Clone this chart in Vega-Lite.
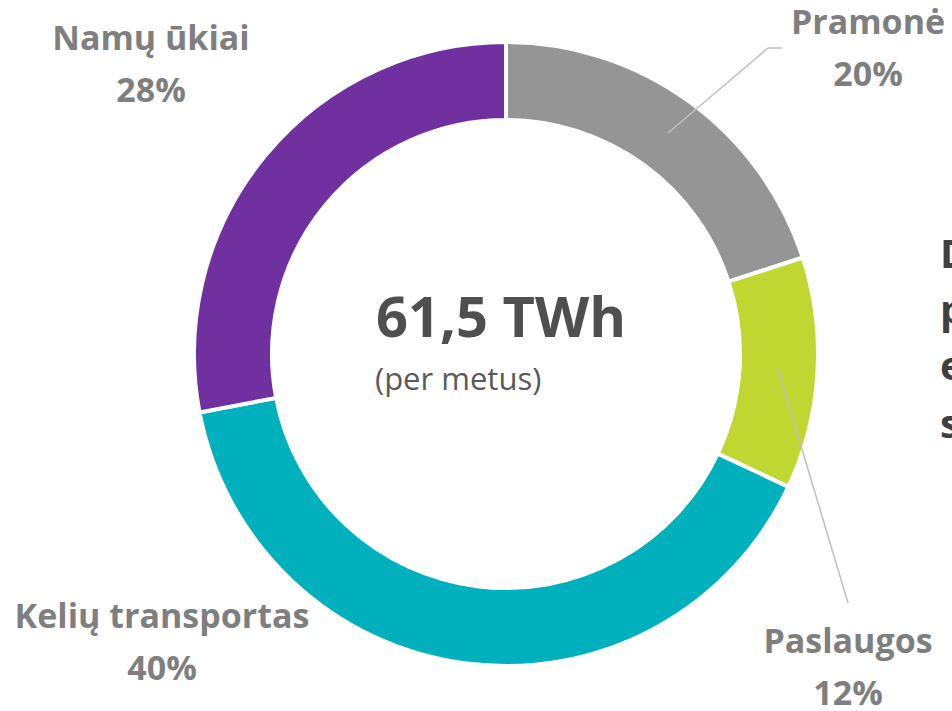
{
  "$schema": "https://vega.github.io/schema/vega-lite/v6.json",
  "width": 892,
  "height": 708,
  "autosize": "none",
  "padding": {"left": 60, "top": 0, "right": 0, "bottom": 3},
  "background": "white",
  "config": {"view": {"stroke": null}, "font": "Open Sans"},
  "datasets": {
    "sectors": [
      {"sector": "Pramonė", "rank": 1, "share": 0.20, "lx": 362, "ly": 320},
      {"sector": "Paslaugos", "rank": 2, "share": 0.12, "lx": 342, "ly": -299},
      {"sector": "Kelių transportas", "rank": 3, "share": 0.40, "lx": -344, "ly": -274},
      {"sector": "Namų ūkiai", "rank": 4, "share": 0.28, "lx": -355, "ly": 304}
    ],
    "leaders": [
      {"sector": "Pramonė", "x": 162, "y": 221, "x2": 262, "y2": 306},
      {"sector": "Pramonė", "x": 262, "y": 306, "x2": 276, "y2": 306},
      {"sector": "Paslaugos", "x": 272, "y": -15, "x2": 342, "y2": -249}
    ],
    "notes": [
      {"kind": "total", "text": "61,5 TWh", "x": -130, "y": 17},
      {"kind": "unit", "text": "(per metus)", "x": -131, "y": -36},
      {"kind": "side", "text": "D", "x": 434, "y": 86},
      {"kind": "side", "text": "p", "x": 434, "y": 30},
      {"kind": "side", "text": "e", "x": 434, "y": -26},
      {"kind": "side", "text": "s", "x": 434, "y": -84}
    ]
  },
  "layer": [
    {
      "data": {"name": "sectors"},
      "mark": {"type": "arc", "innerRadius": 234, "outerRadius": 312, "stroke": "white", "strokeWidth": 4},
      "encoding": {
        "theta": {"field": "share", "type": "quantitative", "stack": true},
        "order": {"field": "rank", "type": "quantitative", "sort": "ascending"},
        "color": {
          "field": "sector",
          "type": "nominal",
          "scale": {
            "domain": ["Pramonė", "Paslaugos", "Kelių transportas", "Namų ūkiai"],
            "range": ["#959595", "#C0D631", "#00B1BD", "#7030A0"]
          },
          "legend": null
        }
      }
    },
    {
      "data": {"name": "leaders"},
      "mark": {"type": "rule", "color": "#BFBFBF", "strokeWidth": 1.5},
      "encoding": {
        "x": {"field": "x", "type": "quantitative", "scale": {"domain": [-446, 446], "nice": false, "zero": false}, "axis": null},
        "y": {"field": "y", "type": "quantitative", "scale": {"domain": [-354, 354], "nice": false, "zero": false}, "axis": null},
        "x2": {"field": "x2"},
        "y2": {"field": "y2"}
      }
    },
    {
      "data": {"name": "sectors"},
      "mark": {"type": "text", "font": "Open Sans", "fontWeight": "bold", "fontSize": 34, "color": "#7F7F7F", "align": "center", "baseline": "alphabetic"},
      "encoding": {
        "x": {"field": "lx", "type": "quantitative"},
        "y": {"field": "ly", "type": "quantitative"},
        "text": {"field": "sector"}
      }
    },
    {
      "data": {"name": "sectors"},
      "mark": {"type": "text", "font": "Open Sans", "fontWeight": "bold", "fontSize": 34, "color": "#7F7F7F", "align": "center", "baseline": "alphabetic", "dy": 52},
      "encoding": {
        "x": {"field": "lx", "type": "quantitative"},
        "y": {"field": "ly", "type": "quantitative"},
        "text": {"field": "share", "type": "quantitative", "format": ".0%"}
      }
    },
    {
      "data": {"name": "notes"},
      "transform": [{"filter": "datum.kind === 'total'"}],
      "mark": {"type": "text", "font": "Open Sans", "fontWeight": "bold", "fontSize": 56, "color": "#4F4F4F", "align": "left", "baseline": "alphabetic"},
      "encoding": {
        "x": {"field": "x", "type": "quantitative"},
        "y": {"field": "y", "type": "quantitative"},
        "text": {"field": "text"}
      }
    },
    {
      "data": {"name": "notes"},
      "transform": [{"filter": "datum.kind === 'unit'"}],
      "mark": {"type": "text", "font": "Open Sans", "fontSize": 31, "color": "#595959", "align": "left", "baseline": "alphabetic"},
      "encoding": {
        "x": {"field": "x", "type": "quantitative"},
        "y": {"field": "y", "type": "quantitative"},
        "text": {"field": "text"}
      }
    },
    {
      "data": {"name": "notes"},
      "transform": [{"filter": "datum.kind === 'side'"}],
      "mark": {"type": "text", "font": "Open Sans", "fontWeight": "bold", "fontSize": 40, "color": "#404040", "align": "left", "baseline": "alphabetic"},
      "encoding": {
        "x": {"field": "x", "type": "quantitative"},
        "y": {"field": "y", "type": "quantitative"},
        "text": {"field": "text"}
      }
    }
  ]
}
